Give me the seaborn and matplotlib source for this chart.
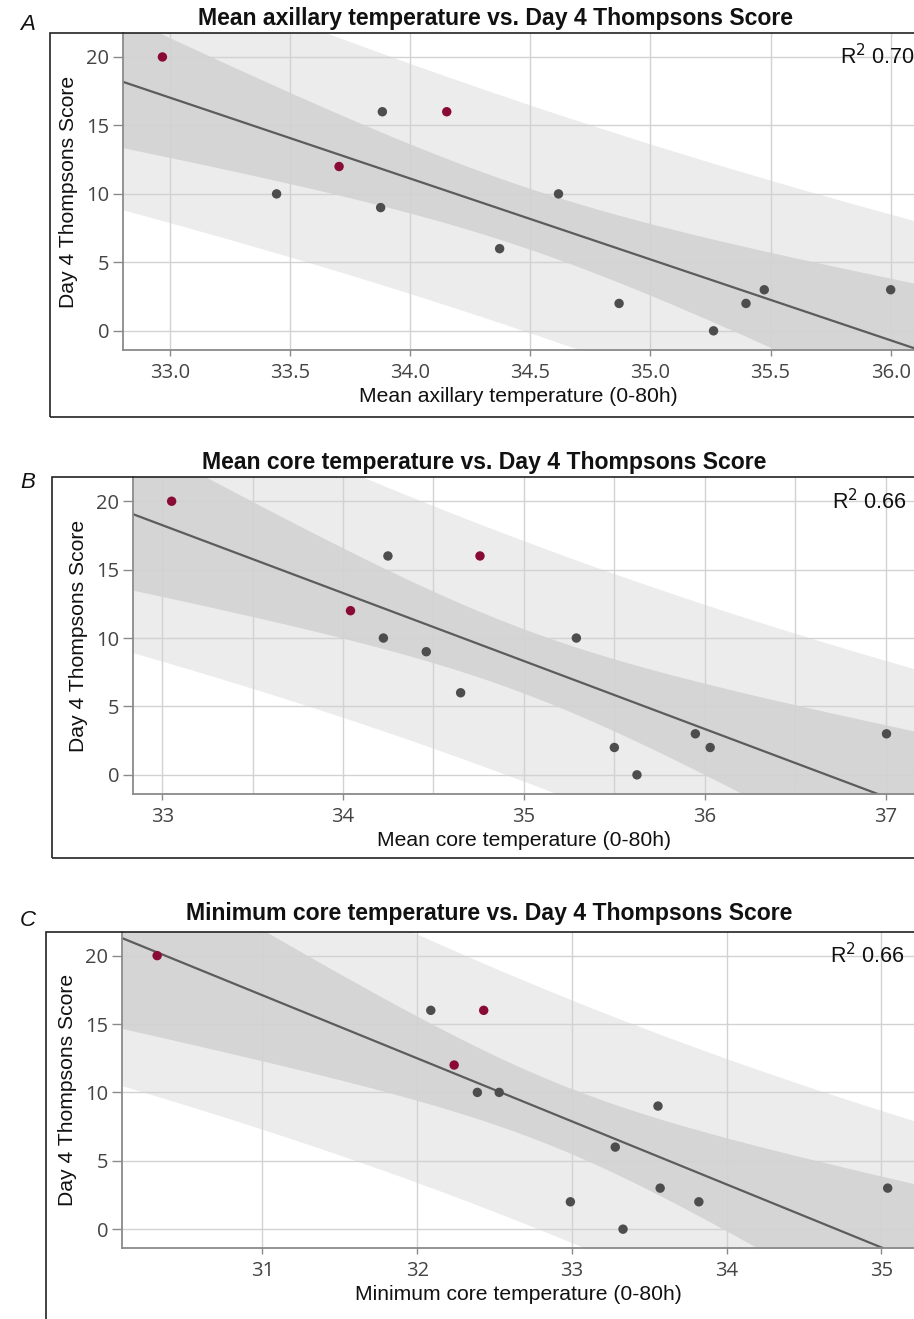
import numpy as np
import pandas as pd
import seaborn as sns
import matplotlib.pyplot as plt
from matplotlib.patches import Rectangle
from matplotlib.ticker import MultipleLocator

# Day 4 Thompsons score (same patients in every panel)
score_a = [20, 16, 16, 12, 10, 9, 6, 10, 2, 0, 2, 3, 3]
axillary = [32.97, 33.885, 34.153, 33.705, 33.445, 33.878, 34.373, 34.618, 34.87, 35.263, 35.398, 35.474, 36.0]
group_a = ["red", "grey", "red", "red", "grey", "grey", "grey", "grey", "grey", "grey", "grey", "grey", "grey"]

score_b = [20, 16, 16, 12, 10, 9, 6, 10, 2, 0, 3, 2, 3]
core_mean = [33.052, 34.248, 34.757, 34.041, 34.223, 34.46, 34.65, 35.29, 35.50, 35.625, 35.948, 36.03, 37.005]
group_b = ["red", "grey", "red", "red", "grey", "grey", "grey", "grey", "grey", "grey", "grey", "grey", "grey"]

score_c = [20, 16, 16, 12, 10, 10, 9, 6, 3, 2, 2, 0, 3]
core_min = [30.32, 32.088, 32.43, 32.239, 32.389, 32.53, 33.556, 33.28, 33.57, 32.99, 33.82, 33.33, 35.04]
group_c = ["red", "grey", "red", "red", "grey", "grey", "grey", "grey", "grey", "grey", "grey", "grey", "grey"]

titles = ["Mean axillary temperature vs. Day 4 Thompsons Score",
          "Mean core temperature vs. Day 4 Thompsons Score",
          "Minimum core temperature vs. Day 4 Thompsons Score"]
xlabels = ["Mean axillary temperature (0-80h)",
           "Mean core temperature (0-80h)",
           "Minimum core temperature (0-80h)"]
r2_labels = ["0.70", "0.66", "0.66"]
letters = ["A", "B", "C"]

sns.set_style("white")
plt.rcParams['font.family'] = ['Liberation Sans', 'DejaVu Sans']

fig = plt.figure(figsize=(9.14, 13.19), dpi=100)
W, H = 914.0, 1319.0

# pixel layout of the three panels: axes left, top, bottom; xlim; box; title centre
panels = [
    dict(x=axillary, y=score_a, g=group_a, ax=(123, 33, 350), xlim=(32.806, 36.097),
         box=(50, 33, 417), tc=(495, 18), lt=25, major=0.5, minor=None, fmt="%.1f", r2x=0.907),
    dict(x=core_mean, y=score_b, g=group_b, ax=(133.3, 477.3, 794), xlim=(32.84, 37.157),
         box=(51.7, 477.3, 858.3), tc=(484, 462), lt=483, major=1, minor=0.5, fmt="%d", r2x=0.895),
    dict(x=core_min, y=score_c, g=group_c, ax=(122.3, 931.7, 1248.3), xlim=(30.095, 35.21),
         box=(45.7, 931.7, 1400), tc=(489, 913.5), lt=921, major=1, minor=None, fmt="%d", r2x=0.894),
]

palette = {"red": "#8a0a36", "grey": "#4d4d4d"}

for i, p in enumerate(panels):
    l, t, b = p["ax"]
    ax = fig.add_axes([l / W, 1 - b / H, (W - l) / W, (b - t) / H])
    df = pd.DataFrame({"x": p["x"], "y": p["y"], "g": p["g"]})

    # OLS fit with confidence and prediction bands
    x = df["x"].values
    y = df["y"].values
    n = len(x)
    slope, inter = np.polyfit(x, y, 1)
    resid = y - (slope * x + inter)
    s = np.sqrt(np.sum(resid ** 2) / (n - 2))
    tval = 2.201
    xs = np.linspace(p["xlim"][0], p["xlim"][1], 200)
    ys = slope * xs + inter
    lev = 1.0 / n + (xs - x.mean()) ** 2 / np.sum((x - x.mean()) ** 2)
    ci = tval * s * np.sqrt(lev)
    pi = tval * s * np.sqrt(1 + lev)

    ax.fill_between(xs, ys - pi, ys + pi, color="#ececec", lw=0, zorder=0.6)
    ax.fill_between(xs, ys - ci, ys + ci, color="#d5d5d5", lw=0, zorder=0.7)
    ax.plot(xs, ys, color="#5c5c5c", lw=1.6, zorder=2)
    sns.scatterplot(data=df, x="x", y="y", hue="g", palette=palette, s=46,
                    edgecolor="none", legend=False, ax=ax, zorder=3)

    ax.set_xlim(p["xlim"])
    ax.set_ylim(-1.4, 21.75)
    ax.set_yticks([0, 5, 10, 15, 20])
    ax.xaxis.set_major_locator(MultipleLocator(p["major"]))
    if p["minor"]:
        ax.xaxis.set_minor_locator(MultipleLocator(p["minor"]))
        ax.grid(True, which="minor", axis="x", color="#d2d2d2", lw=1)
        ax.tick_params(axis="x", which="minor", length=4, color="#8a8a8a", width=1)
    ax.xaxis.set_major_formatter(plt.FormatStrFormatter(p["fmt"]))
    ax.grid(True, which="major", color="#d2d2d2", lw=1)
    ax.set_axisbelow("line")

    for sp in ["top", "right"]:
        ax.spines[sp].set_visible(False)
    for sp in ["left", "bottom"]:
        ax.spines[sp].set_color("#8a8a8a")
        ax.spines[sp].set_linewidth(1.3)

    ax.tick_params(axis="y", which="major", left=True, length=7, color="#8a8a8a", width=1,
                   labelsize=14.5, labelcolor="#444444", pad=3)
    ax.tick_params(axis="x", which="major", bottom=True, length=4, color="#8a8a8a", width=1,
                   labelsize=14.5, labelcolor="#444444", pad=5)
    for lab in ax.get_xticklabels() + ax.get_yticklabels():
        lab.set_family("Open Sans")

    ax.set_xlabel(xlabels[i], fontsize=15.2, color="#111111", labelpad=3)
    ax.set_ylabel("Day 4 Thompsons Score", fontsize=15.2, color="#111111", labelpad=6)

    ax.text(p["r2x"], 20, "R$^2$ " + r2_labels[i], transform=ax.get_yaxis_transform(),
            fontsize=15.5, color="#111111", ha="left", va="center", zorder=4)

    bl, bt, bb = p["box"]
    fig.patches.append(Rectangle((bl / W, 1 - bb / H), 1.2, (bb - bt) / H,
                                 transform=fig.transFigure, fill=False,
                                 edgecolor="#222222", lw=1.2, zorder=5))

    fig.text(p["tc"][0] / W, 1 - p["tc"][1] / H, titles[i], fontsize=16.6, fontweight="bold",
             ha="center", va="center", color="#111111")
    fig.text(20 / W, 1 - p["lt"] / H, letters[i], fontsize=16, fontstyle="italic",
             ha="left", va="center", color="#111111")

fig.savefig("out.png", dpi=100)
